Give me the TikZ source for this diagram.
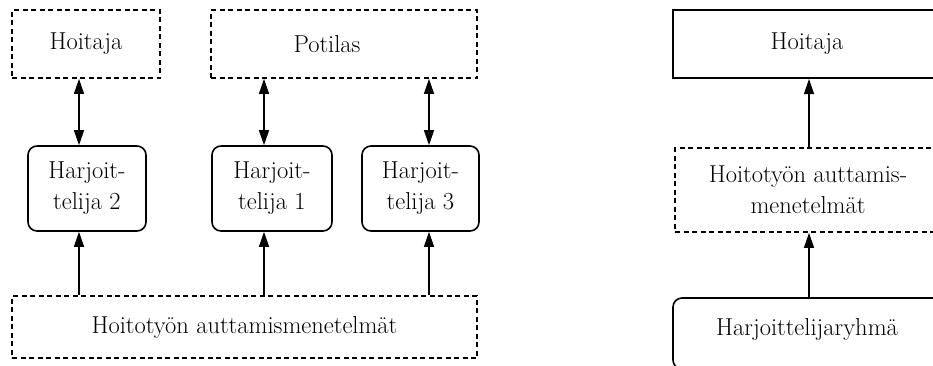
\documentclass[tikz,border=0pt]{standalone}
\usepackage{fontspec}
\usetikzlibrary{arrows.meta}
\begin{document}
\begin{tikzpicture}[x=1pt,y=-1pt,
  every node/.style={font=\fontsize{24.5}{31}\selectfont, inner sep=0pt, align=center},
  dashbox/.style={draw, line width=1.7pt, dash pattern=on 5pt off 3.5pt},
  solidbox/.style={draw, line width=2pt},
  roundbox/.style={draw, line width=1.6pt, rounded corners=9pt},
  link/.style={line width=1.2pt},
  tip/.style={-{Triangle[length=15pt,width=10pt]}},
  both/.style={{Triangle[length=15pt,width=10pt]}-{Triangle[length=15pt,width=10pt]}}
]
\useasboundingbox (0,0) rectangle (933,365);
\clip (0,0) rectangle (933,365);

% columns of the connectors
\coordinate (c1) at (79,0);
\coordinate (c2) at (264,0);
\coordinate (c3) at (429,0);
\coordinate (c4) at (809,0);

% left diagram
\node[dashbox, minimum width=148pt, minimum height=68pt] (hoitajaA) at (86,44) {Hoitaja};
\node[dashbox, minimum width=266pt, minimum height=68pt] (potilas) at (344,44) {};
\node (potilasT) at (327,44) {Potilas};

\node[roundbox, minimum width=118pt, minimum height=85pt] (h2) at (87,188.5) {Harjoit-\\telija 2};
\node[roundbox, minimum width=120pt, minimum height=85pt] (h1) at (272,188.5) {Harjoit-\\telija 1};
\node[roundbox, minimum width=117pt, minimum height=85pt] (h3) at (420.5,188.5) {Harjoit-\\telija 3};

\node[dashbox, minimum width=465pt, minimum height=62pt] (menetA) at (244.5,327) {Hoitotyön auttamismenetelmät};

\draw[link,both] (hoitajaA.south -| c1) -- (h2.north -| c1);
\draw[link,both] (potilas.south -| c2) -- (h1.north -| c2);
\draw[link,both] (potilas.south -| c3) -- (h3.north -| c3);
\draw[link,tip] (menetA.north -| c1) -- (h2.south -| c1);
\draw[link,tip] (menetA.north -| c2) -- (h1.south -| c2);
\draw[link,tip] (menetA.north -| c3) -- (h3.south -| c3);

% right diagram: the boxes run on past the right edge of the page
\node[solidbox, minimum width=290pt, minimum height=68pt] (hoitajaB) at (818,44) {};
\node (hoitajaBT) at (807,44) {Hoitaja};
\node[dashbox, minimum width=290pt, minimum height=84pt] (menetB) at (820,190) {};
\node (menetBT) at (808,190) {Hoitotyön auttamis-\\menetelmät};
\node[roundbox, minimum width=290pt, minimum height=71pt] (ryhma) at (818,333.5) {};
\node (ryhmaT) at (807,329) {Harjoittelijaryhmä};

\draw[link,tip] (menetB.north -| c4) -- (hoitajaB.south -| c4);
\draw[link,tip] (ryhma.north -| c4) -- (menetB.south -| c4);
\end{tikzpicture}
\end{document}
